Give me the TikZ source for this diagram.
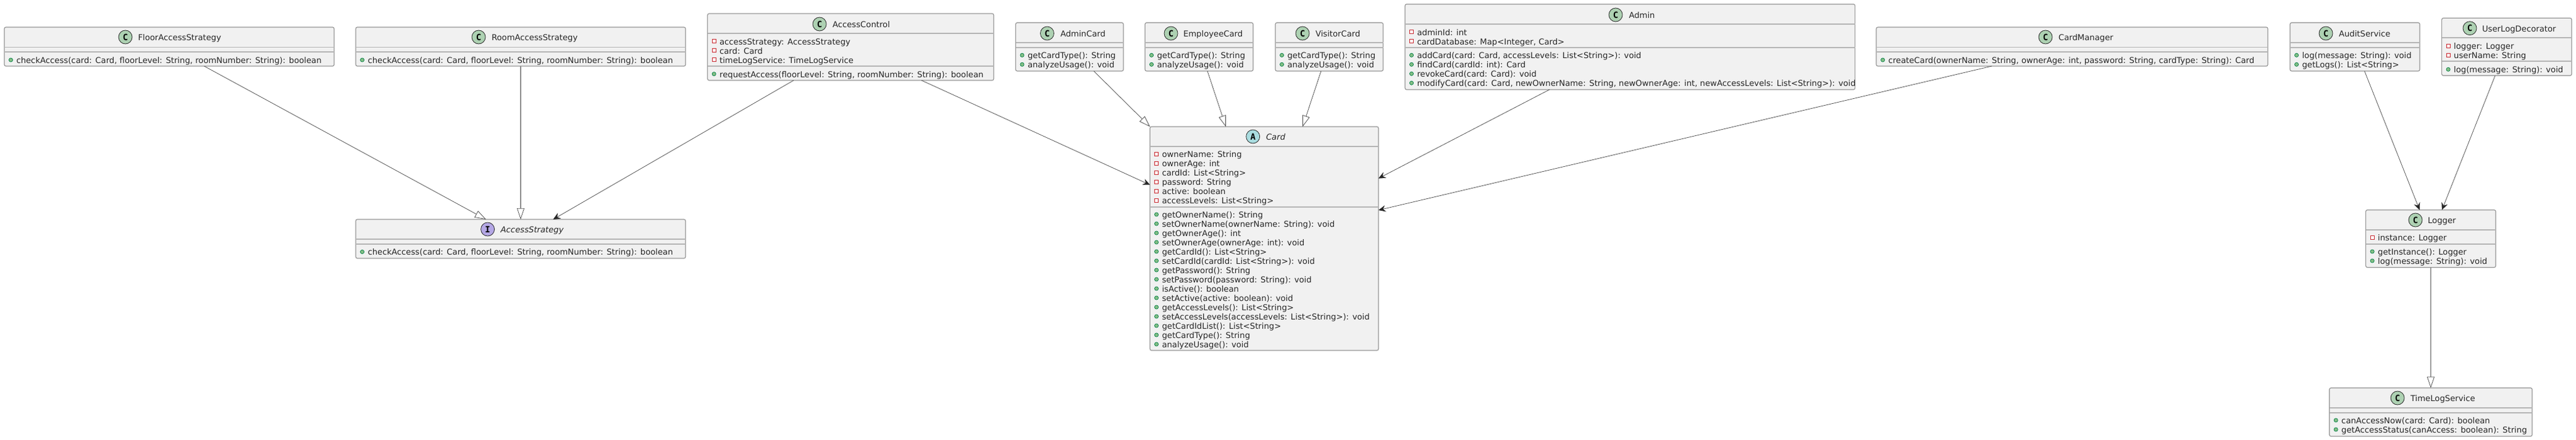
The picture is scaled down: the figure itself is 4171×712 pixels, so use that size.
\documentclass[tikz,border=0pt]{standalone}
\usepackage{fontspec}
\setmainfont{DejaVu Sans}
\newfontfamily\circfont{DejaVu Sans Mono}
\usetikzlibrary{calc,arrows.meta}
\definecolor{boxfill}{HTML}{F1F1F1}
\definecolor{boxline}{HTML}{969696}
\definecolor{sepline}{HTML}{B4B4B4}
\definecolor{txt}{HTML}{262626}
\definecolor{classc}{HTML}{ADD1B2}
\definecolor{absc}{HTML}{A9DCDF}
\definecolor{intc}{HTML}{B4A7E5}
\tikzset{
  umlbox/.style={draw=boxline,fill=boxfill,line width=0.6pt,rounded corners=1.3pt,inner sep=0,outer sep=0},
  sepln/.style={draw=sepline,line width=0.9pt},
  memtxt/.style={anchor=mid west,inner sep=0,outer sep=0,text=txt,font=\fontsize{6.6}{7.5}\selectfont},
  titletxt/.style={memtxt},
  titleit/.style={memtxt,font=\fontsize{6.6}{7.5}\selectfont\itshape},
  dotpub/.style={circle,draw={rgb,255:red,3;green,128;blue,72},fill={rgb,255:red,132;green,190;blue,132},line width=0.35pt,minimum size=3.1pt,inner sep=0},
  sqpriv/.style={rectangle,draw={rgb,255:red,200;green,41;blue,48},fill=white,line width=0.4pt,minimum size=2.9pt,inner sep=0},
  badge/.style={circle,draw=black!85,line width=0.4pt,minimum size=11pt,inner sep=0,text=black,font=\circfont\bfseries\fontsize{7}{7}\selectfont},
  ext/.style={draw=black!72,line width=0.36pt,-{Triangle[length=9pt,width=6pt,fill=white]}},
  extv/.style={draw=black!45,line width=0.8pt,-{Triangle[length=9pt,width=6pt,fill=white,color=black!72,line width=0.36pt]}},
  dep/.style={draw=black!72,line width=0.36pt,-{Stealth[length=5.8pt,width=5.2pt,inset=2pt,color=black!85]}}
}
\newcounter{ln}
% name x1 y1 x2 y2 sep1 sep2
\newcommand\ubox[7]{%
  \pgfmathsetmacro\bw{(#4-#2)*0.5}\pgfmathsetmacro\bh{(#5-#3)*0.5}%
  \node[umlbox,minimum width=\bw pt,minimum height=\bh pt] (#1) at ({(#2+#4)/2},{(#3+#5)/2}) {};
  \draw[sepln] (#1.west |- 0,#6) -- (#1.east |- 0,#6);
  \draw[sepln] (#1.west |- 0,#7) -- (#1.east |- 0,#7);
}
% name colour letter cx cy textx style title
\newcommand\uhead[8]{%
  \node[badge,fill=#2] (#1-badge) at (#4,#5) {#3};
  \node[#7] (#1-title) at (#6,#5) {#8};
}
\newcommand\pubm[3]{\stepcounter{ln}%
  \node[dotpub] (d\theln) at (#1+10.5,#2) {};
  \node[memtxt] (t\theln) at (#1+19.5,#2) {#3};}
\newcommand\prim[3]{\stepcounter{ln}%
  \node[sqpriv] (d\theln) at (#1+10.5,#2) {};
  \node[memtxt] (t\theln) at (#1+19.5,#2) {#3};}
\begin{document}
\begin{tikzpicture}[x=0.5pt,y=-0.5pt]
\useasboundingbox (0,0) rectangle (4171,712);
\fill[white] (0,0) rectangle (4171,712);

% FloorAccessStrategy
\ubox{floor}{7}{44}{541}{107}{76.5}{84}
\uhead{floor}{classc}{C}{203}{60}{223.5}{titletxt}{FloorAccessStrategy}
\pubm{7}{97}{checkAccess(card: Card, floorLevel: String, roomNumber: String): boolean}
% RoomAccessStrategy
\ubox{room}{576}{44}{1110}{107}{76.5}{84}
\uhead{room}{classc}{C}{775}{60}{796}{titletxt}{RoomAccessStrategy}
\pubm{576}{97}{checkAccess(card: Card, floorLevel: String, roomNumber: String): boolean}
% AccessStrategy
\ubox{strategy}{576}{355}{1110}{418}{387}{395}
\uhead{strategy}{intc}{I}{789.6}{371}{810.7}{titleit}{AccessStrategy}
\pubm{576}{407.5}{checkAccess(card: Card, floorLevel: String, roomNumber: String): boolean}
% AccessControl
\ubox{control}{1145.6}{22}{1609}{130}{53.7}{106.7}
\uhead{control}{classc}{C}{1327}{39}{1348}{titletxt}{AccessControl}
\prim{1145.6}{66.7}{accessStrategy: AccessStrategy}
\prim{1145.6}{81.7}{card: Card}
\prim{1145.6}{96.7}{timeLogService: TimeLogService}
\pubm{1145.6}{119.7}{requestAccess(floorLevel: String, roomNumber: String): boolean}
% AdminCard
\ubox{admincard}{1644.5}{36.7}{1819}{115}{69}{77}
\uhead{admincard}{classc}{C}{1695.5}{54}{1717}{titletxt}{AdminCard}
\pubm{1644.5}{89.3}{getCardType(): String}
\pubm{1644.5}{104.3}{analyzeUsage(): void}
% EmployeeCard
\ubox{employeecard}{1854}{36.7}{2029}{115}{69}{77}
\uhead{employeecard}{classc}{C}{1896}{54}{1916}{titletxt}{EmployeeCard}
\pubm{1854}{89.3}{getCardType(): String}
\pubm{1854}{104.3}{analyzeUsage(): void}
% VisitorCard
\ubox{visitorcard}{2065}{36.7}{2239.5}{115}{69}{77}
\uhead{visitorcard}{classc}{C}{2109}{54}{2130}{titletxt}{VisitorCard}
\pubm{2065}{89.3}{getCardType(): String}
\pubm{2065}{104.3}{analyzeUsage(): void}
% Card
\ubox{card}{1862}{205}{2232}{567}{237}{335}
\uhead{card}{absc}{A}{2028.7}{221}{2050}{titleit}{Card}
\prim{1862}{249.3}{ownerName: String}
\prim{1862}{264.3}{ownerAge: int}
\prim{1862}{279.3}{cardId: List<String>}
\prim{1862}{294.3}{password: String}
\prim{1862}{309.3}{active: boolean}
\prim{1862}{324.3}{accessLevels: List<String>}
\pubm{1862}{347}{getOwnerName(): String}
\pubm{1862}{362}{setOwnerName(ownerName: String): void}
\pubm{1862}{377}{getOwnerAge(): int}
\pubm{1862}{392}{setOwnerAge(ownerAge: int): void}
\pubm{1862}{407}{getCardId(): List<String>}
\pubm{1862}{422}{setCardId(cardId: List<String>): void}
\pubm{1862}{437}{getPassword(): String}
\pubm{1862}{452}{setPassword(password: String): void}
\pubm{1862}{467}{isActive(): boolean}
\pubm{1862}{482}{setActive(active: boolean): void}
\pubm{1862}{497}{getAccessLevels(): List<String>}
\pubm{1862}{512}{setAccessLevels(accessLevels: List<String>): void}
\pubm{1862}{527}{getCardIdList(): List<String>}
\pubm{1862}{542}{getCardType(): String}
\pubm{1862}{557}{analyzeUsage(): void}
% Admin
\ubox{admin}{2275}{6.7}{3003.6}{145}{38.7}{77}
\uhead{admin}{classc}{C}{2616}{24}{2637.5}{titletxt}{Admin}
\prim{2275}{51.7}{adminId: int}
\prim{2275}{66.7}{cardDatabase: Map<Integer, Card>}
\pubm{2275}{89.3}{addCard(card: Card, accessLevels: List<String>): void}
\pubm{2275}{104.3}{findCard(cardId: int): Card}
\pubm{2275}{119.3}{revokeCard(card: Card): void}
\pubm{2275}{134.3}{modifyCard(card: Card, newOwnerName: String, newOwnerAge: int, newAccessLevels: List<String>): void}
% CardManager
\ubox{manager}{3038}{44}{3672}{107}{76.5}{84}
\uhead{manager}{classc}{C}{3312}{60}{3333}{titletxt}{CardManager}
\pubm{3038}{97}{createCard(ownerName: String, ownerAge: int, password: String, cardType: String): Card}
% AuditService
\ubox{audit}{3708}{36.7}{3918}{115}{69}{77}
\uhead{audit}{classc}{C}{3766}{54}{3787}{titletxt}{AuditService}
\pubm{3708}{89.3}{log(message: String): void}
\pubm{3708}{104.3}{getLogs(): List<String>}
% UserLogDecorator
\ubox{decorator}{3953.6}{29.3}{4164}{122.3}{61.3}{99.3}
\uhead{decorator}{classc}{C}{3999}{45.7}{4019}{titletxt}{UserLogDecorator}
\prim{3953.6}{74.3}{logger: Logger}
\prim{3953.6}{89.3}{userName: String}
\pubm{3953.6}{112.3}{log(message: String): void}
% Logger
\ubox{logger}{3830.6}{339.7}{4041}{432.7}{372}{395}
\uhead{logger}{classc}{C}{3911}{356}{3931}{titletxt}{Logger}
\prim{3830.6}{384}{instance: Logger}
\pubm{3830.6}{407}{getInstance(): Logger}
\pubm{3830.6}{422}{log(message: String): void}
% TimeLogService
\ubox{timelog}{3771.7}{627.7}{4100}{706}{660}{667.7}
\uhead{timelog}{classc}{C}{3882}{644}{3903}{titletxt}{TimeLogService}
\pubm{3771.7}{680}{canAccessNow(card: Card): boolean}
\pubm{3771.7}{695}{getAccessStatus(canAccess: boolean): String}

% connectors
\draw[ext] ($(floor.south west)!.606!(floor.south east)$) -- ($(strategy.north west)!.395!(strategy.north east)$);
\draw[extv] (room.south) -- (strategy.north);
\draw[dep] ($(control.south west)!.301!(control.south east)$) -- ($(strategy.north west)!.5985!(strategy.north east)$);
\draw[dep] ($(control.south west)!.7475!(control.south east)$) -- ($(card.north west)!.26!(card.south west)$);
\draw[ext] ($(admincard.south west)!.725!(admincard.south east)$) -- (card.north west);
\draw[ext] ($(employeecard.south west)!.577!(employeecard.south east)$) -- ($(card.north west)!.332!(card.north east)$);
\draw[ext] ($(visitorcard.south west)!.424!(visitorcard.south east)$) -- ($(card.north west)!.668!(card.north east)$);
\draw[dep] ($(admin.south west)!.321!(admin.south east)$) -- ($(card.north east)!.231!(card.south east)$);
\draw[dep] ($(manager.south west)!.295!(manager.south east)$) -- ($(card.north east)!.373!(card.south east)$);
\draw[dep] ($(audit.south west)!.574!(audit.south east)$) -- ($(logger.north west)!.414!(logger.north east)$);
\draw[dep] ($(decorator.south west)!.411!(decorator.south east)$) -- ($(logger.north west)!.586!(logger.north east)$);
\draw[extv] (logger.south) -- (timelog.north);
\end{tikzpicture}
\end{document}
